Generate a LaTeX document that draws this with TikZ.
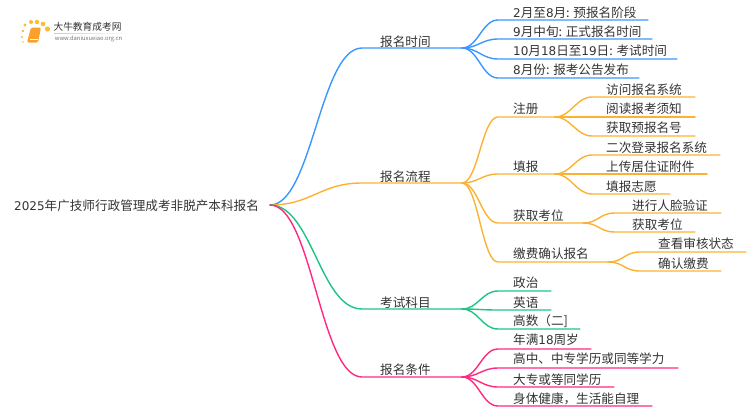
\documentclass[tikz,border=0pt]{standalone}
\usepackage{fontspec}
\setmainfont{Noto Sans CJK SC}
\newfontfamily\ltnfont[Scale=0.95]{DejaVu Sans}
\newcommand{\ltn}[1]{{\ltnfont #1}}
\definecolor{cblue}{HTML}{3B97FF}
\definecolor{corange}{HTML}{FBB232}
\definecolor{cgreen}{HTML}{1DC584}
\definecolor{cpink}{HTML}{FF2A80}
\definecolor{ctext}{HTML}{333333}
\usetikzlibrary{shadings,calc}
\tikzset{
  label text/.style={anchor=west,inner sep=0pt,yshift=-0.5pt,text=ctext,font=\fontsize{12.6pt}{14pt}\selectfont},
  branch/.style={line width=1.4pt,line cap=round},
  logodot/.style={fill=#1,draw=none},
}
% \branchnode{name}{parent}{colour}{curve end x}{line y}{line end x}{text x}{text y}{text}
\newcommand{\branchnode}[9]{%
  \coordinate (#1-s) at (#4,#5);
  \coordinate (#1-e) at (#6,#5);
  \node[label text] (#1) at (#7,#8) {#9};
  \draw[branch,#3] (#2) .. controls +(\ctrl,0) and ($(#1-s)+(-\ctrl,0)$) .. (#1-s) -- (#1-e);
}
\begin{document}
\begin{tikzpicture}[x=1pt,y=-1pt]
\useasboundingbox (0,0) rectangle (750,410);
\node[label text] (root) at (14,205) {\ltn{2025}年广技师行政管理成考非脱产本科报名};
\coordinate (hub) at (270,205);
\def\ctrl{42}
\branchnode{a}{hub}{cblue}{362}{48}{462}{380}{41}{报名时间}
\branchnode{b}{hub}{corange}{362}{183}{462}{380}{176}{报名流程}
\branchnode{c}{hub}{cgreen}{362}{309}{462}{380}{302}{考试科目}
\branchnode{d}{hub}{cpink}{362}{377}{462}{380}{369}{报名条件}
\def\ctrl{16}
\branchnode{a1}{a-e}{cblue}{498}{20}{648}{513}{12}{\ltn{2}月至\ltn{8}月: 预报名阶段}
\branchnode{a2}{a-e}{cblue}{498}{39}{652}{513}{31}{\ltn{9}月中旬: 正式报名时间}
\branchnode{a3}{a-e}{cblue}{498}{59}{677}{513}{50}{\ltn{10}月\ltn{18}日至\ltn{19}日: 考试时间}
\branchnode{a4}{a-e}{cblue}{498}{78}{639}{513}{69}{\ltn{8}月份: 报考公告发布}
\branchnode{b1}{b-e}{corange}{498}{117}{555}{513}{108}{注册}
\branchnode{b2}{b-e}{corange}{498}{174}{555}{513}{166}{填报}
\branchnode{b3}{b-e}{corange}{498}{223}{583}{513}{215}{获取考位}
\branchnode{b4}{b-e}{corange}{498}{262}{608}{513}{253}{缴费确认报名}
\branchnode{b11}{b1-e}{corange}{592}{97}{695}{606}{89}{访问报名系统}
\branchnode{b12}{b1-e}{corange}{592}{117}{695}{606}{108}{阅读报考须知}
\branchnode{b13}{b1-e}{corange}{592}{136}{695}{606}{127}{获取预报名号}
\branchnode{b21}{b2-e}{corange}{592}{155}{720}{606}{147}{二次登录报名系统}
\branchnode{b22}{b2-e}{corange}{592}{174}{707}{606}{166}{上传居住证附件}
\branchnode{b23}{b2-e}{corange}{592}{194}{670}{606}{186}{填报志愿}
\branchnode{b31}{b3-e}{corange}{615}{213}{721}{632}{205}{进行人脸验证}
\branchnode{b32}{b3-e}{corange}{615}{232}{695}{632}{224}{获取考位}
\branchnode{b41}{b4-e}{corange}{640}{252}{746}{658}{243}{查看审核状态}
\branchnode{b42}{b4-e}{corange}{640}{271}{721}{658}{263}{确认缴费}
\branchnode{c1}{c-e}{cgreen}{498}{291}{551}{513}{282}{政治}
\branchnode{c2}{c-e}{cgreen}{498}{310}{551}{513}{302}{英语}
\branchnode{c3}{c-e}{cgreen}{498}{329}{580}{513}{321}{高数（二]}
\branchnode{d1}{d-e}{cpink}{498}{349}{591}{513}{339}{年满\ltn{18}周岁}
\branchnode{d2}{d-e}{cpink}{498}{368}{678}{513}{358}{高中、中专学历或同等学力}
\branchnode{d3}{d-e}{cpink}{498}{387}{614}{513}{379}{大专或等同学历}
\branchnode{d4}{d-e}{cpink}{498}{406}{652}{513}{398}{身体健康，生活能自理}
% logo
\foreach \p/\r in {{23,42}/0.9,{22,37}/1.1,{23,31}/1.3,{25,25}/1.7,{31,22}/2,{37,22}/2.2,{43,24}/2.3,{47.5,29}/2.6}
  \fill[logodot=corange!85!yellow] (\p) circle (\r);
\fill[corange!90!red,rounded corners=1.5pt] (31,27.5) -- (41,27.5) -- (38,42.5) -- (27,42.5) -- cycle;
\draw[white,line width=.6pt] (30,39.5) -- (38.3,39.5);
\node[inner sep=0pt,text=ctext,font=\fontsize{9.7pt}{11pt}\selectfont] (logot) at (87.5,27) {大牛教育成考网};
\node[inner sep=0pt,text=black!55,font=\fontsize{5.8pt}{7pt}\selectfont] (logou) at (88.5,38.5) {www.daniuxueiao.org.cn};
\shade[left color=black!20,right color=white] (54,33) rectangle (133,33.5);
\end{tikzpicture}
\end{document}
